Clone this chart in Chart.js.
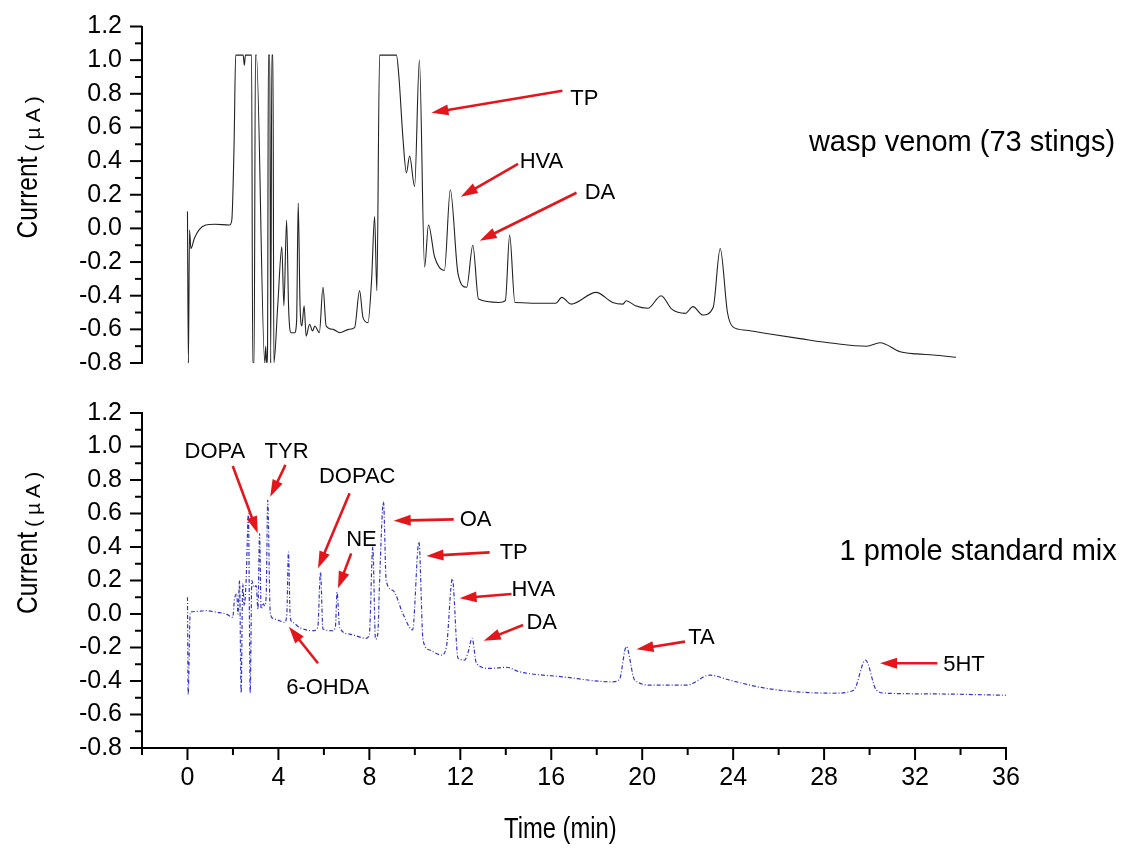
<!DOCTYPE html>
<html><head><meta charset="utf-8">
<script src="https://cdn.jsdelivr.net/npm/chart.js@4.4.1/dist/chart.umd.min.js"></script>
<style>
html,body{margin:0;padding:0;background:#fff;}
#wrap{position:relative;width:1124px;height:851px;overflow:hidden;background:#fff;}
canvas{position:absolute;left:0;top:0;}
</style></head><body>
<div id="wrap"><canvas id="cMix" width="1124" height="851"></canvas><canvas id="cWasp" width="1124" height="851"></canvas></div>
<script>
// ---------- DATA ----------
const waspTime = [0.00,0.04,0.09,0.15,0.30,0.50,0.80,1.20,1.85,1.95,2.05,2.12,2.45,2.50,2.55,2.82,2.87,2.93,2.99,3.03,3.40,3.44,3.48,3.52,3.56,3.62,3.66,3.71,3.76,3.80,3.97,4.15,4.24,4.36,4.45,4.56,4.71,4.80,4.87,4.95,5.03,5.13,5.22,5.37,5.50,5.60,5.80,5.96,6.10,6.40,6.70,7.10,7.35,7.57,7.72,7.94,8.10,8.23,8.33,8.45,9.19,9.30,9.48,9.63,9.77,9.99,10.20,10.43,10.60,10.87,11.30,11.56,11.90,12.28,12.55,12.80,13.70,13.98,14.17,14.40,16.20,16.46,16.87,17.97,18.70,19.15,19.30,19.70,20.25,20.83,21.30,21.90,22.23,22.67,23.12,23.43,23.75,23.99,24.57,25.47,26.94,28.40,29.87,30.46,31.34,32.07,32.80,33.80];
const waspCurrent = [0.10,-0.80,-0.01,-0.12,-0.06,-0.01,0.02,0.025,0.02,0.05,0.50,1.03,1.03,0.97,1.03,1.03,-0.80,-0.80,1.03,1.03,-0.80,-0.70,-0.80,-0.74,1.03,1.03,-0.80,1.03,1.03,-0.80,-0.46,-0.11,-0.46,0.05,-0.48,-0.62,-0.62,-0.55,0.15,-0.45,-0.58,-0.46,-0.64,-0.57,-0.61,-0.58,-0.62,-0.35,-0.58,-0.60,-0.62,-0.60,-0.59,-0.37,-0.53,-0.56,-0.30,0.07,-0.37,1.03,1.03,0.90,0.53,0.33,0.43,0.25,1.00,-0.23,0.02,-0.17,-0.25,0.23,-0.27,-0.35,-0.10,-0.42,-0.44,-0.43,-0.04,-0.44,-0.445,-0.41,-0.45,-0.38,-0.44,-0.45,-0.43,-0.46,-0.475,-0.40,-0.48,-0.505,-0.465,-0.515,-0.47,-0.12,-0.50,-0.585,-0.605,-0.625,-0.655,-0.683,-0.70,-0.68,-0.733,-0.746,-0.752,-0.766];

const mixTime = [0.00,0.03,0.12,0.30,0.82,1.30,1.70,1.99,2.07,2.17,2.22,2.29,2.36,2.43,2.50,2.58,2.68,2.76,2.83,2.92,3.02,3.10,3.17,3.24,3.34,3.39,3.46,3.53,3.64,3.75,4.05,4.27,4.37,4.44,4.52,4.63,4.93,5.51,5.73,5.85,5.96,6.40,6.51,6.58,6.69,7.13,7.86,8.00,8.15,8.27,8.37,8.45,8.62,8.74,9.04,9.48,9.90,10.18,10.36,10.65,11.17,11.39,11.65,11.90,12.19,12.34,12.52,12.71,13.30,14.03,14.60,16.50,18.70,19.00,19.30,19.67,20.48,21.95,22.97,23.85,25.50,28.40,29.30,29.82,30.30,30.75,32.80,36.00];
const mixCurrent = [0.10,-0.48,0.01,0.015,0.02,0.01,0.00,-0.02,0.09,0.12,0.00,0.20,-0.47,0.18,0.05,0.20,0.60,-0.47,0.20,0.16,0.17,0.03,0.48,0.03,0.06,0.05,0.10,0.68,0.01,-0.025,-0.04,-0.05,0.00,0.37,-0.02,-0.05,-0.08,-0.10,-0.08,0.25,-0.09,-0.10,-0.07,0.13,-0.08,-0.12,-0.145,-0.12,0.40,-0.15,-0.12,0.20,0.67,0.20,0.14,0.00,-0.095,0.43,-0.155,-0.215,-0.245,-0.195,0.21,-0.265,-0.275,-0.23,-0.145,-0.295,-0.325,-0.318,-0.345,-0.375,-0.405,-0.39,-0.195,-0.395,-0.425,-0.425,-0.365,-0.395,-0.445,-0.473,-0.455,-0.275,-0.455,-0.473,-0.477,-0.485];

const xTickValues = [0,4,8,12,16,20,24,28,32,36];
const yTickValues = [-0.8,-0.6,-0.4,-0.2,0.0,0.2,0.4,0.6,0.8,1.0,1.2];

const waspPeakNames = ['TP','HVA','DA'];
const waspNameAt   = [[16.84,0.77],[14.61,0.395],[17.47,0.21]];
const waspArrowFrom = [[16.49,0.818],[14.54,0.383],[17.11,0.212]];
const waspArrowTo   = [[10.73,0.688],[12.02,0.188],[12.85,-0.073]];
const waspCaption = 'wasp venom (73 stings)';
const waspCaptionAt = [40.8,0.508];

const mixPeakNames = ['DOPA','TYR','DOPAC','NE','6-OHDA','OA','TP','HVA','DA','TA','5HT'];
const mixNameAt = [[-0.13,0.969],[3.39,0.969],[5.78,0.816],[6.98,0.442],[4.34,-0.444],[11.97,0.561],[13.73,0.362],[14.25,0.143],[14.91,-0.056],[22.02,-0.145],[33.24,-0.304]];
const mixArrowFrom = [[1.99,0.884],[4.31,0.890],[7.13,0.721],[7.20,0.362],[5.74,-0.294],[11.71,0.565],[13.29,0.368],[14.25,0.119],[14.76,-0.066],[21.88,-0.165],[32.98,-0.294]];
const mixArrowTo = [[3.09,0.482],[3.64,0.700],[5.74,0.273],[6.62,0.153],[4.46,-0.076],[9.07,0.557],[10.51,0.346],[11.97,0.094],[13.03,-0.159],[19.75,-0.211],[30.46,-0.294]];
const mixCaption = '1 pmole standard mix';
const mixCaptionAt = [40.87,0.372];

const yTitleMain = 'Current';
const yTitleUnit = '(µA)';
const xTitle = 'Time (min)';

// ---------- FONTS ----------
function hasFont(name){
  const c=document.createElement('canvas').getContext('2d');
  const s='abcdefgTime 0123 Current';
  c.font='72px monospace'; const a=c.measureText(s).width;
  c.font='72px "'+name+'", monospace'; const b=c.measureText(s).width;
  return Math.abs(a-b)>1;
}
const HAS_NARROW = hasFont('Liberation Sans Narrow');
const NARROW = HAS_NARROW ? '"Liberation Sans Narrow"' : '"Liberation Sans", Arial, sans-serif';
const SANS = '"Liberation Sans", Arial, sans-serif';
const RED = '#e3161c';

function narrowText(ctx, text, x, y, size, align, baseline, rotate){
  ctx.save();
  ctx.translate(x,y);
  if(rotate) ctx.rotate(-Math.PI/2);
  if(!HAS_NARROW) ctx.scale(0.82,1);
  ctx.font = size+'px '+NARROW;
  ctx.textAlign = align; ctx.textBaseline = baseline; ctx.fillStyle='#000';
  ctx.fillText(text,0,0);
  const w = ctx.measureText(text).width*(HAS_NARROW?1:0.82);
  ctx.restore();
  return w;
}

function drawArrow(ctx,x1,y1,x2,y2){
  const ang=Math.atan2(y2-y1,x2-x1), L=17, W=5.5;
  const bx=x2-L*Math.cos(ang), by=y2-L*Math.sin(ang);
  ctx.save();
  ctx.strokeStyle=RED; ctx.lineWidth=2.6; ctx.lineCap='butt';
  ctx.beginPath(); ctx.moveTo(x1,y1); ctx.lineTo(bx+2*Math.cos(ang),by+2*Math.sin(ang)); ctx.stroke();
  ctx.fillStyle=RED; ctx.beginPath();
  ctx.moveTo(x2,y2);
  ctx.lineTo(bx-W*Math.sin(ang), by+W*Math.cos(ang));
  ctx.lineTo(bx+W*Math.sin(ang), by-W*Math.cos(ang));
  ctx.closePath(); ctx.fill();
  ctx.restore();
}

function decorate(chart, cfg){
  const ctx=chart.ctx, xs=chart.scales.x, ys=chart.scales.y, ca=chart.chartArea;
  ctx.save();
  ctx.strokeStyle='#000'; ctx.lineWidth=2;
  for(let i=0;i<yTickValues.length;i++){
    const p=ys.getPixelForValue(yTickValues[i]);
    ctx.beginPath(); ctx.moveTo(ca.left-12,p); ctx.lineTo(ca.left,p); ctx.stroke();
    if(i<yTickValues.length-1){
      const q=ys.getPixelForValue((yTickValues[i]+yTickValues[i+1])/2);
      ctx.beginPath(); ctx.moveTo(ca.left-7,q); ctx.lineTo(ca.left,q); ctx.stroke();
    }
  }
  if(cfg.xAxis){
    for(let i=0;i<xTickValues.length;i++){
      const p=xs.getPixelForValue(xTickValues[i]);
      ctx.beginPath(); ctx.moveTo(p,ca.bottom); ctx.lineTo(p,ca.bottom+12); ctx.stroke();
      const q=xs.getPixelForValue(xTickValues[i]-2);
      ctx.beginPath(); ctx.moveTo(q,ca.bottom); ctx.lineTo(q,ca.bottom+7); ctx.stroke();
    }
    narrowText(ctx, xTitle, xs.getPixelForValue(16.4), ca.bottom+82, 29, 'center','middle', false);
  }
  // y title
  const y0 = ys.getPixelForValue(cfg.titleStart);
  const w = narrowText(ctx, yTitleMain, 37, y0, 30, 'left','alphabetic', true);
  ctx.save();
  ctx.translate(40, y0 - w - 5); ctx.rotate(-Math.PI/2);
  ctx.font='21px '+SANS; ctx.fillStyle='#000'; ctx.textBaseline='alphabetic'; ctx.textAlign='left';
  let off=0;
  for(const ch of yTitleUnit){ ctx.fillText(ch,off,0); off+=ctx.measureText(ch).width+5; }
  ctx.restore();
  // annotations
  for(let i=0;i<cfg.names.length;i++){
    drawArrow(ctx, xs.getPixelForValue(cfg.from[i][0]), ys.getPixelForValue(cfg.from[i][1]),
                   xs.getPixelForValue(cfg.to[i][0]), ys.getPixelForValue(cfg.to[i][1]));
  }
  ctx.fillStyle='#000'; ctx.font='22px '+SANS; ctx.textAlign='left'; ctx.textBaseline='middle';
  for(let i=0;i<cfg.names.length;i++){
    ctx.fillText(cfg.names[i], xs.getPixelForValue(cfg.at[i][0]), ys.getPixelForValue(cfg.at[i][1]));
  }
  ctx.font='29px '+SANS; ctx.textAlign='right';
  ctx.fillText(cfg.caption, xs.getPixelForValue(cfg.captionAt[0]), ys.getPixelForValue(cfg.captionAt[1]));
  ctx.restore();
}

function yScaleOpts(){
  return {
    type:'linear', min:-0.8, max:1.2,
    afterBuildTicks:s=>{ s.ticks=yTickValues.map(v=>({value:v})); },
    afterFit:s=>{ s.width=142; s.paddingTop=10; s.paddingBottom=10; },
    grid:{display:false, drawTicks:false},
    border:{display:true, color:'#000', width:2},
    ticks:{padding:20, color:'#000', autoSkip:false, font:{family:SANS, size:25}, callback:v=>Number(v).toFixed(1)}
  };
}

// ---------- TOP: wasp venom ----------
new Chart(document.getElementById('cWasp'), {
  type:'line',
  data:{datasets:[{data:waspTime.map((t,i)=>({x:t,y:waspCurrent[i]})), borderColor:'#222', borderWidth:1.1,
    pointRadius:0, cubicInterpolationMode:'monotone', fill:false}]},
  options:{
    responsive:false, animation:false, devicePixelRatio:1,
    layout:{padding:{top:26.5,right:118,bottom:488,left:0}},
    plugins:{legend:{display:false}, tooltip:{enabled:false}},
    scales:{ x:{type:'linear', min:-2, max:36, display:false}, y:yScaleOpts() }
  },
  plugins:[{id:'decoWasp', afterDraw:c=>decorate(c,{xAxis:false,titleStart:-0.06,names:waspPeakNames,at:waspNameAt,from:waspArrowFrom,to:waspArrowTo,caption:waspCaption,captionAt:waspCaptionAt})}]
});

// ---------- BOTTOM: standard mix ----------
new Chart(document.getElementById('cMix'), {
  type:'line',
  data:{datasets:[{data:mixTime.map((t,i)=>({x:t,y:mixCurrent[i]})), borderColor:'#3434c8', borderWidth:1.2,
    borderDash:[4,2,1,2], pointRadius:0, cubicInterpolationMode:'monotone', fill:false}]},
  options:{
    responsive:false, animation:false, devicePixelRatio:1,
    layout:{padding:{top:413,right:118,bottom:0,left:0}},
    plugins:{legend:{display:false}, tooltip:{enabled:false}},
    scales:{
      x:{type:'linear', min:-2, max:36,
        afterBuildTicks:s=>{ s.ticks=xTickValues.map(v=>({value:v})); },
        afterFit:s=>{ s.height=103; },
        grid:{display:false, drawTicks:false},
        border:{display:true, color:'#000', width:2},
        ticks:{padding:15, color:'#000', autoSkip:false, maxRotation:0, font:{family:NARROW, size:25}, callback:v=>String(v)}
      },
      y:yScaleOpts()
    }
  },
  plugins:[{id:'decoMix', afterDraw:c=>decorate(c,{xAxis:true,titleStart:0.0,names:mixPeakNames,at:mixNameAt,from:mixArrowFrom,to:mixArrowTo,caption:mixCaption,captionAt:mixCaptionAt})}]
});
</script>
</body></html>
